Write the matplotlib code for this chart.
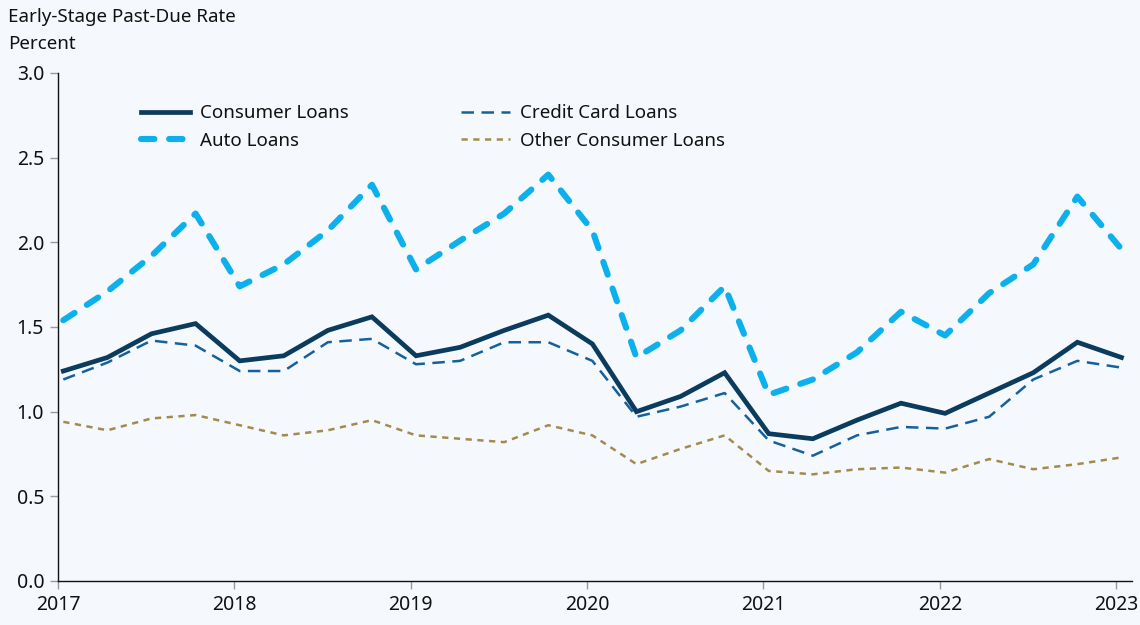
import numpy as np
import matplotlib
matplotlib.use("Agg")
import matplotlib.pyplot as plt

plt.rcParams['font.family'] = ['Noto Sans', 'DejaVu Sans']

# quarterly observations, 2017 Q1 .. 2023 Q1
quarters = 2017.03 + 0.25 * np.arange(25)

consumer = [1.24, 1.32, 1.46, 1.52, 1.30, 1.33, 1.48, 1.56, 1.33,
            1.38, 1.48, 1.57, 1.40, 1.00, 1.09, 1.23, 0.87, 0.84,
            0.95, 1.05, 0.99, 1.11, 1.23, 1.41, 1.32]
auto = [1.54, 1.71, 1.92, 2.17, 1.74, 1.87, 2.07, 2.34, 1.84,
        2.01, 2.17, 2.40, 2.07, 1.32, 1.48, 1.74, 1.10, 1.19,
        1.35, 1.59, 1.45, 1.70, 1.87, 2.27, 1.96]
credit = [1.19, 1.29, 1.42, 1.39, 1.24, 1.24, 1.41, 1.43, 1.28,
          1.30, 1.41, 1.41, 1.30, 0.97, 1.03, 1.11, 0.83, 0.74,
          0.86, 0.91, 0.90, 0.97, 1.19, 1.30, 1.26]
other = [0.94, 0.89, 0.96, 0.98, 0.92, 0.86, 0.89, 0.95, 0.86,
         0.84, 0.82, 0.92, 0.86, 0.69, 0.78, 0.86, 0.65, 0.63,
         0.66, 0.67, 0.64, 0.72, 0.66, 0.69, 0.73]

bg = '#f5f9fd'
fig = plt.figure(figsize=(11.4, 6.25), dpi=100, facecolor=bg)
ax = fig.add_axes([0.0509, 0.0704, 0.9421, 0.8128], facecolor=bg)

ax.plot(quarters, consumer, color='#0b3b5d', lw=3.4, solid_joinstyle='miter',
        label='Consumer Loans')
ax.plot(quarters, auto, color='#0cb0ec', lw=4.4, dash_capstyle='round',
        dashes=(2.2, 2.4), label='Auto Loans')
ax.plot(quarters, credit, color='#14619e', lw=1.8, dashes=(5, 3),
        label='Credit Card Loans')
ax.plot(quarters, other, color='#a28b4d', lw=1.8, dashes=(2.5, 2.2),
        label='Other Consumer Loans')

ax.set_xlim(2017, 2023.09)
ax.set_ylim(0, 3.0)
ax.set_yticks(np.arange(0, 3.01, 0.5))
ax.set_yticklabels([f'{v:.1f}' for v in np.arange(0, 3.01, 0.5)])
ax.set_xticks(range(2017, 2024))
ax.set_xticklabels([str(y) for y in range(2017, 2024)])

for s in ['top', 'right']:
    ax.spines[s].set_visible(False)
for s in ['left', 'bottom']:
    ax.spines[s].set_linewidth(1.0)
    ax.spines[s].set_color('#111111')
ax.tick_params(axis='both', length=6, width=1, color='#999999',
               labelsize=14, labelcolor='#111111', pad=4)

fig.text(0.007, 0.972, 'Early-Stage Past-Due Rate', fontsize=13.5,
         color='#111111', va='center')
fig.text(0.007, 0.93, 'Percent', fontsize=13.5, color='#111111', va='center')

leg = ax.legend(ncol=2, loc='upper left', bbox_to_anchor=(0.0615, 0.972),
                frameon=False, fontsize=13.5, handlelength=2.6,
                handletextpad=0.55, columnspacing=6.0, labelspacing=0.52)
for t in leg.get_texts():
    t.set_color('#111111')

fig.savefig('out.png', dpi=100, facecolor=bg)
